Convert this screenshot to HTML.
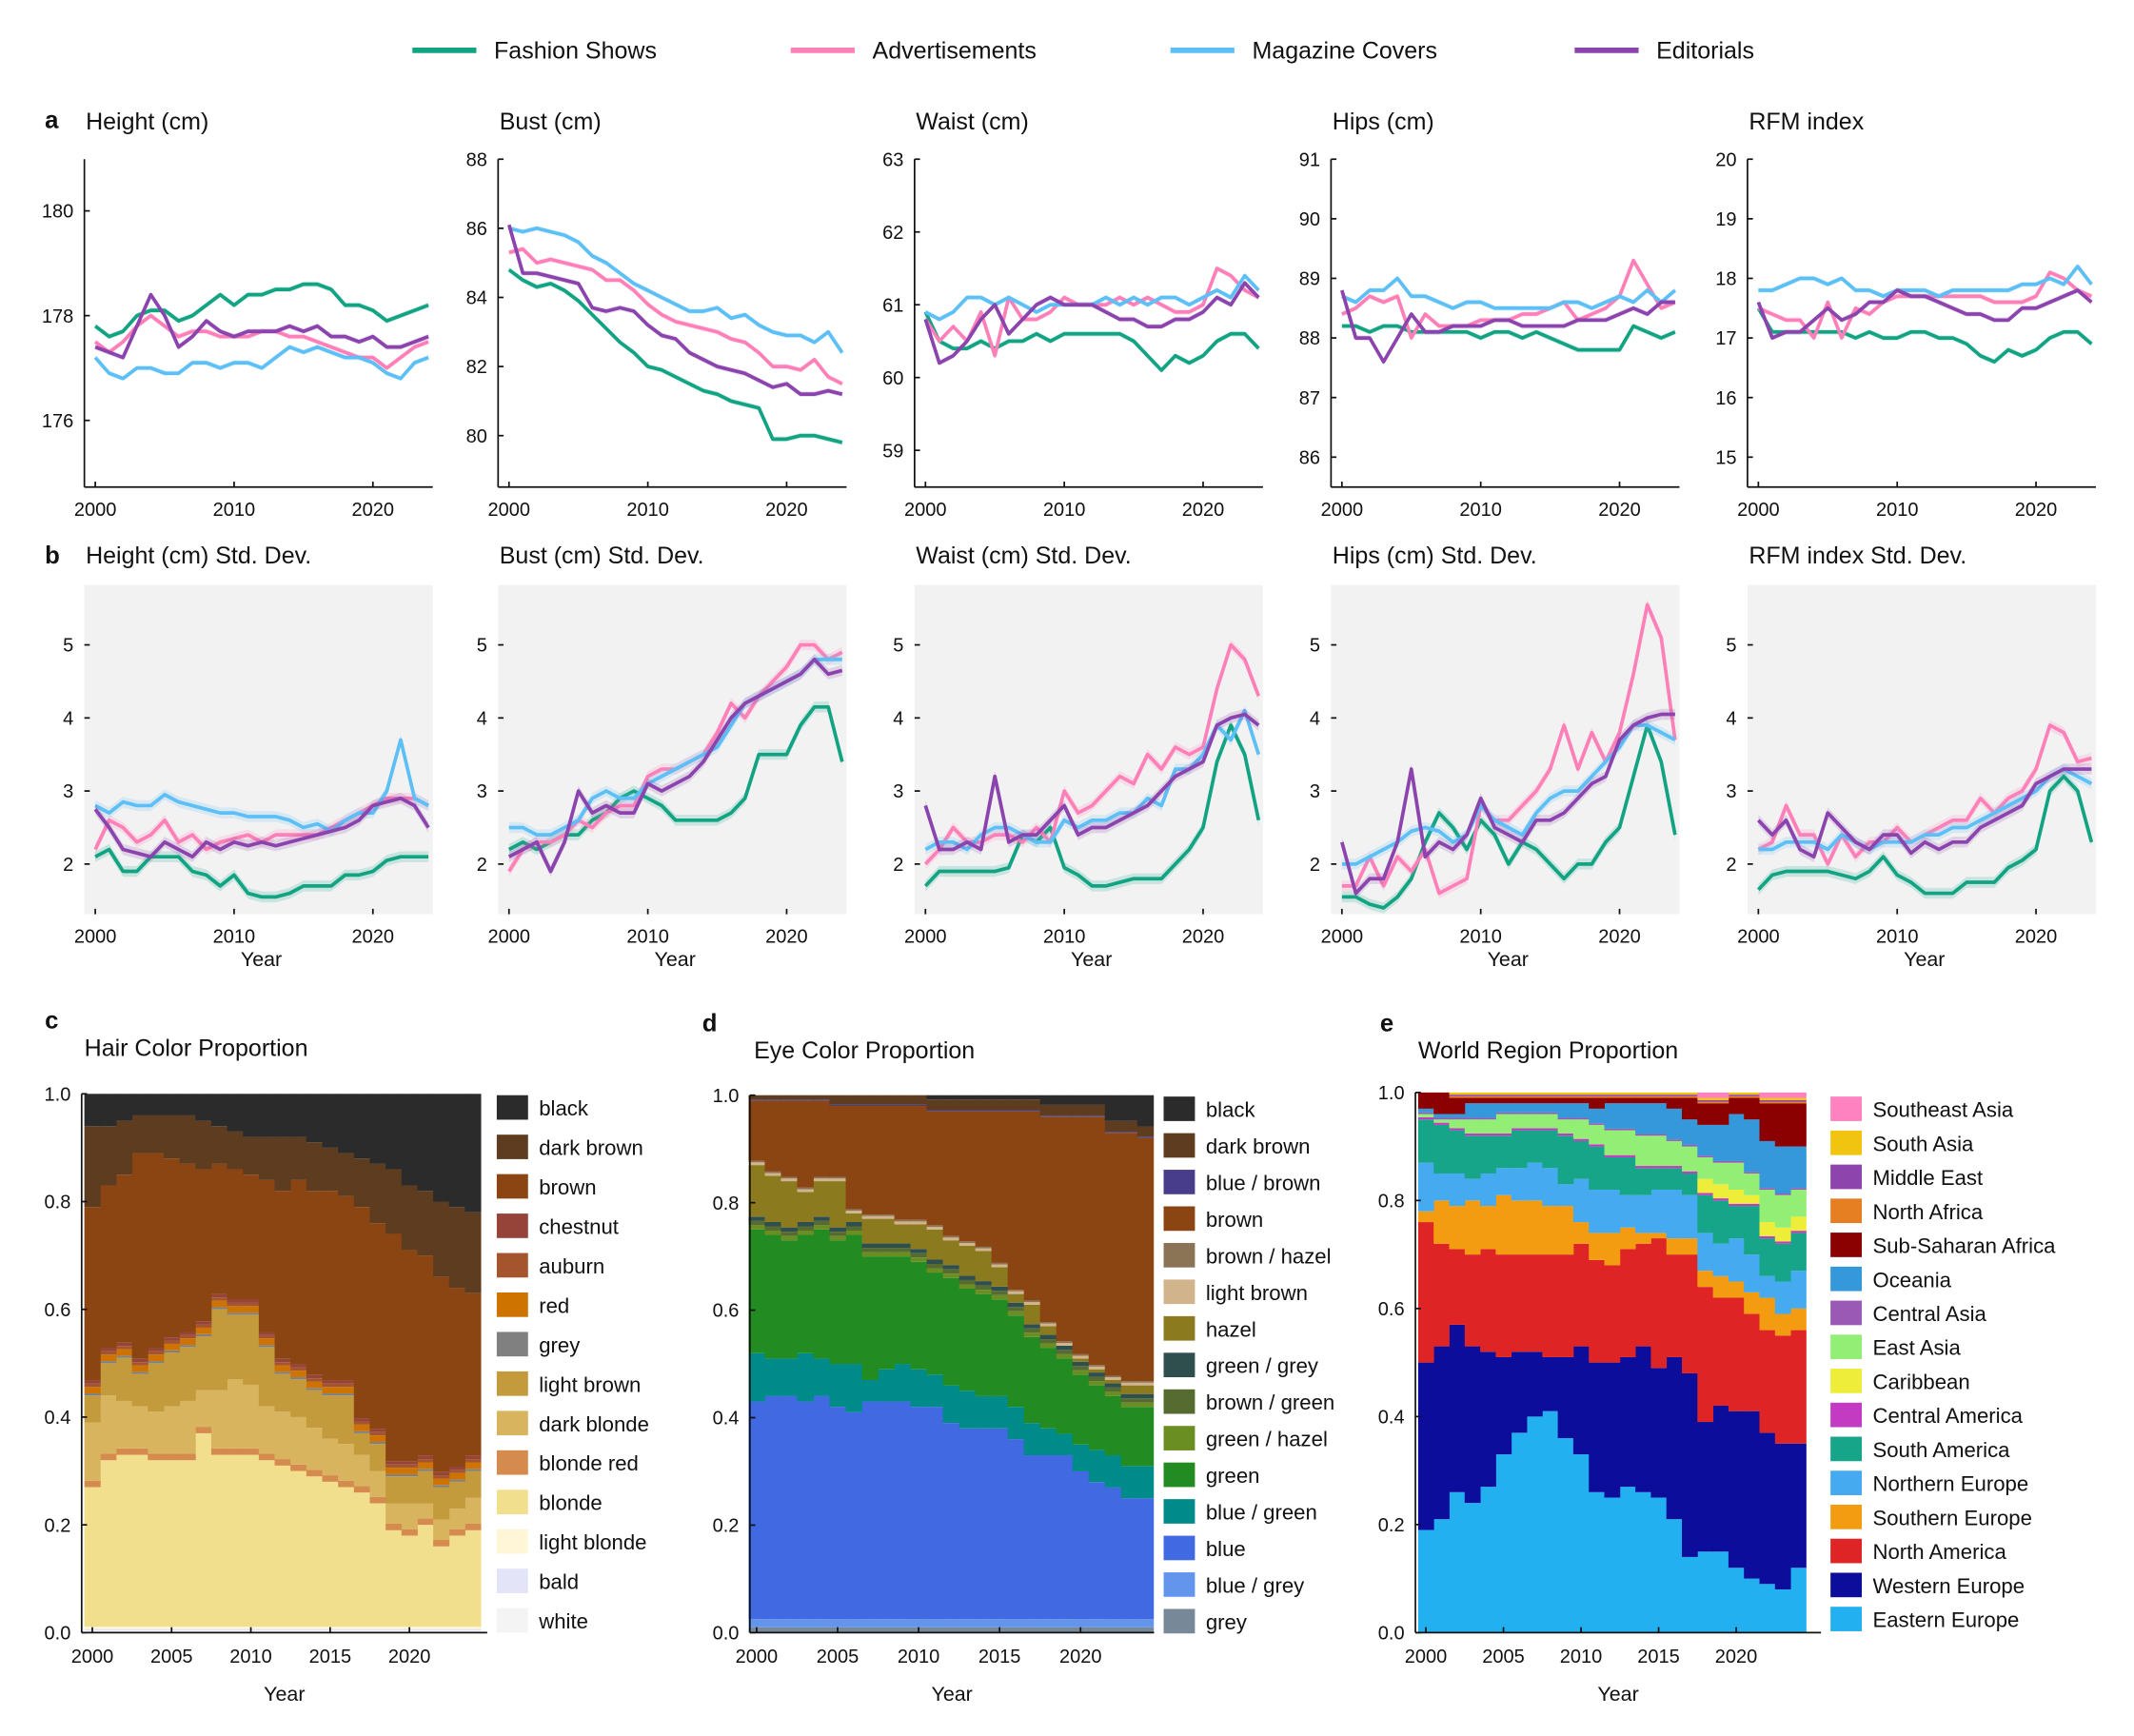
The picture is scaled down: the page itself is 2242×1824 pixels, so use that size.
<!DOCTYPE html>
<html><head><meta charset="utf-8">
<style>
html,body{margin:0;padding:0;background:#fff;}
svg{display:block;font-family:"Liberation Sans",Arial,sans-serif;}
</style></head>
<body>
<svg id="s" width="2242" height="1824" viewBox="0 0 1568 1276" preserveAspectRatio="none" xmlns="http://www.w3.org/2000/svg"></svg>
<script>
const S=document.getElementById('s');let h='';
const C={fs:'#12a383',ad:'#ff80b8',mg:'#5cbff6',ed:'#8b44ad'};
function T(x,y,t,o){o=o||{};h+=`<text x="${x}" y="${y}" font-size="${o.fs||14}" text-anchor="${o.a||'start'}" ${o.b?'font-weight="bold"':''} fill="#111">${t}</text>`;}
function L(x1,y1,x2,y2,c,w){h+=`<line x1="${x1}" y1="${y1}" x2="${x2}" y2="${y2}" stroke="${c||'#111'}" stroke-width="${w||1.2}"/>`;}
// legend
[[303,'fs','Fashion Shows'],[581,'ad','Advertisements'],[860,'mg','Magazine Covers'],[1157,'ed','Editorials']].forEach(a=>{L(a[0],37,a[0]+47,37,C[a[1]],4);T(a[0]+60,43,a[2],{fs:17.5});});
const lefts=[62,366,672,978,1284];
const A=[
{t:'Height (cm)',y:v=>155+(180-v)*38.5,tk:[176,178,180],d:{
fs:[177.8,177.6,177.7,178.0,178.1,178.1,177.9,178.0,178.2,178.4,178.2,178.4,178.4,178.5,178.5,178.6,178.6,178.5,178.2,178.2,178.1,177.9,178.0,178.1,178.2],
ad:[177.5,177.3,177.5,177.8,178.0,177.8,177.6,177.7,177.7,177.6,177.6,177.6,177.7,177.7,177.6,177.6,177.5,177.4,177.3,177.2,177.2,177.0,177.2,177.4,177.5],
mg:[177.2,176.9,176.8,177.0,177.0,176.9,176.9,177.1,177.1,177.0,177.1,177.1,177.0,177.2,177.4,177.3,177.4,177.3,177.2,177.2,177.1,176.9,176.8,177.1,177.2],
ed:[177.4,177.3,177.2,177.8,178.4,178.0,177.4,177.6,177.9,177.7,177.6,177.7,177.7,177.7,177.8,177.7,177.8,177.6,177.6,177.5,177.6,177.4,177.4,177.5,177.6]}},
{t:'Bust (cm)',y:v=>117+(88-v)*25.4,tk:[80,82,84,86,88],d:{
fs:[84.8,84.5,84.3,84.4,84.2,83.9,83.5,83.1,82.7,82.4,82.0,81.9,81.7,81.5,81.3,81.2,81.0,80.9,80.8,79.9,79.9,80.0,80.0,79.9,79.8],
ad:[85.3,85.4,85.0,85.1,85.0,84.9,84.8,84.5,84.5,84.2,83.8,83.5,83.3,83.2,83.1,83.0,82.8,82.7,82.4,82.0,82.0,81.9,82.2,81.7,81.5],
mg:[86.0,85.9,86.0,85.9,85.8,85.6,85.2,85.0,84.7,84.4,84.2,84.0,83.8,83.6,83.6,83.7,83.4,83.5,83.2,83.0,82.9,82.9,82.7,83.0,82.4],
ed:[86.1,84.7,84.7,84.6,84.5,84.4,83.7,83.6,83.7,83.6,83.2,82.9,82.8,82.4,82.2,82.0,81.9,81.8,81.6,81.4,81.5,81.2,81.2,81.3,81.2]}},
{t:'Waist (cm)',y:v=>117+(63-v)*53.5,tk:[59,60,61,62,63],d:{
fs:[60.9,60.5,60.4,60.4,60.5,60.4,60.5,60.5,60.6,60.5,60.6,60.6,60.6,60.6,60.6,60.5,60.3,60.1,60.3,60.2,60.3,60.5,60.6,60.6,60.4],
ad:[60.8,60.5,60.7,60.5,60.9,60.3,61.1,60.8,60.8,60.9,61.1,61.0,61.0,61.0,61.1,61.0,61.1,61.0,60.9,60.9,61.0,61.5,61.4,61.2,61.1],
mg:[60.9,60.8,60.9,61.1,61.1,61.0,61.1,61.0,60.9,61.0,61.0,61.0,61.0,61.1,61.0,61.1,61.0,61.1,61.1,61.0,61.1,61.2,61.1,61.4,61.2],
ed:[60.8,60.2,60.3,60.5,60.8,61.0,60.6,60.8,61.0,61.1,61.0,61.0,61.0,60.9,60.8,60.8,60.7,60.7,60.8,60.8,60.9,61.1,61.0,61.3,61.1]}},
{t:'Hips (cm)',y:v=>117+(91-v)*43.8,tk:[86,87,88,89,90,91],d:{
fs:[88.2,88.2,88.1,88.2,88.2,88.1,88.1,88.1,88.1,88.1,88.0,88.1,88.1,88.0,88.1,88.0,87.9,87.8,87.8,87.8,87.8,88.2,88.1,88.0,88.1],
ad:[88.4,88.5,88.7,88.6,88.7,88.0,88.4,88.2,88.2,88.2,88.3,88.3,88.3,88.4,88.4,88.5,88.6,88.3,88.4,88.5,88.7,89.3,88.9,88.5,88.6],
mg:[88.7,88.6,88.8,88.8,89.0,88.7,88.7,88.6,88.5,88.6,88.6,88.5,88.5,88.5,88.5,88.5,88.6,88.6,88.5,88.6,88.7,88.6,88.8,88.6,88.8],
ed:[88.8,88.0,88.0,87.6,88.0,88.4,88.1,88.1,88.2,88.2,88.2,88.3,88.3,88.2,88.2,88.2,88.2,88.3,88.3,88.3,88.4,88.5,88.4,88.6,88.6]}},
{t:'RFM index',y:v=>117+(20-v)*43.8,tk:[15,16,17,18,19,20],d:{
fs:[17.5,17.1,17.1,17.1,17.1,17.1,17.1,17.0,17.1,17.0,17.0,17.1,17.1,17.0,17.0,16.9,16.7,16.6,16.8,16.7,16.8,17.0,17.1,17.1,16.9],
ad:[17.5,17.4,17.3,17.3,17.0,17.6,17.0,17.5,17.4,17.6,17.7,17.7,17.7,17.7,17.7,17.7,17.7,17.6,17.6,17.6,17.7,18.1,18.0,17.8,17.7],
mg:[17.8,17.8,17.9,18.0,18.0,17.9,18.0,17.8,17.8,17.7,17.8,17.8,17.8,17.7,17.8,17.8,17.8,17.8,17.8,17.9,17.9,18.0,17.9,18.2,17.9],
ed:[17.6,17.0,17.1,17.1,17.3,17.5,17.3,17.4,17.6,17.6,17.8,17.7,17.7,17.6,17.5,17.4,17.4,17.3,17.3,17.5,17.5,17.6,17.7,17.8,17.6]}}];
const B=[
{fs:[2.1,2.2,1.9,1.9,2.1,2.1,2.1,1.9,1.85,1.7,1.85,1.6,1.55,1.55,1.6,1.7,1.7,1.7,1.85,1.85,1.9,2.05,2.1,2.1,2.1],
ad:[2.2,2.6,2.5,2.3,2.4,2.6,2.3,2.4,2.2,2.3,2.35,2.4,2.3,2.4,2.4,2.4,2.4,2.5,2.6,2.7,2.8,2.9,2.9,2.9,2.8],
mg:[2.8,2.7,2.85,2.8,2.8,2.95,2.85,2.8,2.75,2.7,2.7,2.65,2.65,2.65,2.6,2.5,2.55,2.45,2.6,2.7,2.7,3.0,3.7,2.9,2.8],
ed:[2.75,2.5,2.2,2.15,2.1,2.3,2.2,2.1,2.3,2.2,2.3,2.25,2.3,2.25,2.3,2.35,2.4,2.45,2.5,2.6,2.8,2.85,2.9,2.8,2.5]},
{fs:[2.2,2.3,2.2,2.3,2.4,2.4,2.6,2.7,2.9,3.0,2.9,2.8,2.6,2.6,2.6,2.6,2.7,2.9,3.5,3.5,3.5,3.9,4.15,4.15,3.4],
ad:[1.9,2.2,2.3,2.3,2.4,2.6,2.5,2.7,2.8,2.8,3.2,3.3,3.3,3.4,3.5,3.8,4.2,4.0,4.3,4.5,4.7,5.0,5.0,4.8,4.9],
mg:[2.5,2.5,2.4,2.4,2.5,2.6,2.9,3.0,2.9,2.9,3.1,3.2,3.3,3.4,3.5,3.6,3.9,4.2,4.3,4.4,4.5,4.6,4.8,4.8,4.8],
ed:[2.1,2.2,2.3,1.9,2.3,3.0,2.7,2.8,2.7,2.7,3.1,3.0,3.1,3.2,3.4,3.7,4.0,4.2,4.3,4.4,4.5,4.6,4.8,4.6,4.65]},
{fs:[1.7,1.9,1.9,1.9,1.9,1.9,1.95,2.4,2.3,2.5,1.95,1.85,1.7,1.7,1.75,1.8,1.8,1.8,2.0,2.2,2.5,3.4,3.9,3.5,2.6],
ad:[2.0,2.2,2.5,2.3,2.3,2.4,2.4,2.3,2.5,2.3,3.0,2.7,2.8,3.0,3.2,3.1,3.5,3.3,3.6,3.5,3.6,4.4,5.0,4.8,4.3],
mg:[2.2,2.3,2.3,2.2,2.4,2.5,2.5,2.4,2.3,2.3,2.6,2.5,2.6,2.6,2.7,2.7,2.9,2.8,3.3,3.3,3.5,3.9,3.7,4.1,3.5],
ed:[2.8,2.2,2.2,2.3,2.2,3.2,2.3,2.4,2.4,2.6,2.8,2.4,2.5,2.5,2.6,2.7,2.8,3.0,3.2,3.3,3.4,3.9,4.0,4.05,3.9]},
{fs:[1.55,1.55,1.45,1.4,1.55,1.8,2.3,2.7,2.5,2.2,2.6,2.4,2.0,2.3,2.2,2.0,1.8,2.0,2.0,2.3,2.5,3.2,3.9,3.4,2.4],
ad:[1.7,1.7,2.1,1.7,2.1,1.9,2.2,1.6,1.7,1.8,2.8,2.6,2.6,2.8,3.0,3.3,3.9,3.3,3.8,3.4,3.8,4.6,5.55,5.1,3.7],
mg:[2.0,2.0,2.1,2.2,2.3,2.45,2.5,2.45,2.3,2.4,2.8,2.6,2.5,2.4,2.7,2.9,3.0,3.0,3.2,3.4,3.6,3.9,3.9,3.8,3.7],
ed:[2.3,1.6,1.8,1.8,2.3,3.3,2.1,2.3,2.2,2.4,2.9,2.5,2.4,2.3,2.6,2.6,2.7,2.9,3.1,3.2,3.7,3.9,4.0,4.05,4.05]},
{fs:[1.65,1.85,1.9,1.9,1.9,1.9,1.85,1.8,1.9,2.1,1.85,1.75,1.6,1.6,1.6,1.75,1.75,1.75,1.95,2.05,2.2,3.0,3.2,3.0,2.3],
ad:[2.2,2.3,2.8,2.4,2.4,2.0,2.4,2.1,2.3,2.3,2.5,2.3,2.4,2.5,2.6,2.6,2.9,2.7,2.9,3.0,3.3,3.9,3.8,3.4,3.45],
mg:[2.2,2.2,2.3,2.3,2.3,2.2,2.4,2.3,2.2,2.3,2.3,2.3,2.4,2.4,2.5,2.5,2.6,2.7,2.8,2.9,3.0,3.2,3.3,3.2,3.1],
ed:[2.6,2.4,2.6,2.2,2.1,2.7,2.5,2.3,2.2,2.4,2.4,2.15,2.3,2.2,2.3,2.3,2.5,2.6,2.7,2.8,3.1,3.2,3.3,3.3,3.3]}];
function series(l,yf,d,bw){['fs','ad','mg','ed'].forEach(k=>{const xs=d[k].map((v,i)=>l+8+i*10.2);const ys=d[k].map(yf);
let up=xs.map((x,i)=>x+','+(ys[i]-bw)).join(' ');let dn=xs.map((x,i)=>x+','+(ys[i]+bw)).reverse().join(' ');
h+=`<polygon points="${up} ${dn}" fill="${C[k]}" opacity="0.18"/>`;
h+=`<polyline points="${xs.map((x,i)=>x+','+ys[i]).join(' ')}" fill="none" stroke="${C[k]}" stroke-width="2.6" stroke-linejoin="round"/>`;});}
function xticks(l,yb){[2000,2010,2020].forEach(y=>{const x=l+8+(y-2000)*10.2;L(x,yb,x,yb-4);T(x,yb+21,y,{a:'middle',fs:14});});}
A.forEach((p,j)=>{const l=lefts[j];
 T(l+1,95,p.t,{fs:17.5});
 L(l,117,l,358);L(l,358,l+256,358);
 p.tk.forEach(v=>{const y=p.y(v);L(l,y,l+4,y);T(l-8,y+5,v,{a:'end'});});
 xticks(l,358);series(l,p.y,p.d,2);
 const b=B[j];
 T(l+1,414,p.t+' Std. Dev.',{fs:17.5});
 h+=`<rect x="${l}" y="430" width="256" height="242" fill="#f2f2f2"/>`;
 const yb=v=>474+(5-v)*53.7;
 [2,3,4,5].forEach(v=>{const y=yb(v);L(l,y,l+4,y);T(l-8,y+5,v,{a:'end'});});
 xticks(l,672);T(l+130,710,'Year',{a:'middle',fs:15});
 series(l,yb,b,4);
});
T(33,94,'a',{b:1,fs:18});T(33,414,'b',{b:1,fs:18});
// stacked
function stack(ax,layers,leg){const {l,t,bt,x0,w,r}=ax;const yf=v=>bt-(bt-t)*v;
 let prev=new Array(25).fill(0);
 layers.forEach(L2=>{const c=L2[1],s=L2[2];const top=Array.isArray(s)?s.map((v,i)=>Math.max(v,prev[i])):prev.map(v=>Math.min(1,v+s));
  if(L2[3])for(let i=0;i<25;i++)top[i]=1;
  for(let i=0;i<25;i++){if(top[i]>prev[i])h+=`<rect x="${(x0+i*w).toFixed(2)}" y="${yf(top[i]).toFixed(2)}" width="${(w+0.3).toFixed(2)}" height="${(yf(prev[i])-yf(top[i])).toFixed(2)}" fill="${c}"/>`;}
  prev=top;});
 L(l,t,l,bt);L(l,bt,r,bt);
 [0,0.2,0.4,0.6,0.8,1.0].forEach(v=>{const y=yf(v);L(l,y,l+4,y);T(l-8,y+5,v.toFixed(1),{a:'end'});});
 [2000,2005,2010,2015,2020].forEach(y=>{const x=x0+w/2+(y-2000)*w;L(x,bt,x,bt-4);T(x,bt+22,y,{a:'middle'});});
 T((l+r)/2,bt+50,'Year',{a:'middle',fs:15});
 const lg=layers.slice().reverse();
 lg.forEach((L2,i)=>{const y=leg.y0+i*leg.st;h+=`<rect x="${leg.x}" y="${y-9}" width="23" height="18" fill="${L2[1]}"/>`;T(leg.x+31,y+6,L2[0],{fs:15.5});});
}
const hair=[['white','#f4f4f4',0.004],['bald','#e4e4f8',0.003],['light blonde','#fff6d8',0.004],
['blonde','#f2df8e',[0.27,0.32,0.33,0.33,0.32,0.32,0.32,0.37,0.33,0.33,0.33,0.32,0.31,0.30,0.29,0.28,0.27,0.26,0.24,0.19,0.18,0.2,0.16,0.18,0.19]],
['blonde red','#d58a4e',0.012],
['dark blonde','#d8b45e',[0.39,0.44,0.43,0.42,0.41,0.42,0.43,0.45,0.45,0.47,0.46,0.42,0.41,0.40,0.38,0.36,0.35,0.33,0.30,0.24,0.24,0.24,0.21,0.23,0.25]],
['light brown','#c49b3c',[0.44,0.50,0.51,0.48,0.50,0.52,0.53,0.55,0.60,0.59,0.59,0.53,0.48,0.47,0.45,0.44,0.44,0.37,0.35,0.29,0.29,0.30,0.27,0.28,0.30]],
['grey','#808080',0.004],['red','#cf7300',0.012],['auburn','#a5552e',0.006],['chestnut','#96443a',0.006],
['brown','#8b4513',[0.79,0.83,0.85,0.89,0.89,0.88,0.87,0.86,0.87,0.86,0.85,0.84,0.82,0.84,0.82,0.82,0.81,0.79,0.76,0.74,0.71,0.70,0.66,0.64,0.63]],
['dark brown','#5e3c1f',[0.94,0.94,0.95,0.96,0.96,0.96,0.96,0.95,0.94,0.93,0.92,0.92,0.92,0.92,0.91,0.90,0.89,0.88,0.87,0.86,0.83,0.82,0.80,0.79,0.78]],
['black','#2b2b2b',1,1]];
stack({l:60,t:804,bt:1200,x0:62,w:11.65,r:358},hair,{x:365,y0:814,st:29});
T(33,756,'c',{b:1,fs:18});T(62,776,'Hair Color Proportion',{fs:17.5});
const eye=[['grey','#778899',0.01],['blue / grey','#6495ed',0.015],
['blue','#4169e1',[0.43,0.44,0.44,0.43,0.44,0.42,0.41,0.43,0.43,0.43,0.42,0.42,0.39,0.38,0.38,0.38,0.36,0.33,0.33,0.33,0.30,0.28,0.27,0.25,0.25]],
['blue / green','#008b8b',[0.52,0.51,0.51,0.52,0.51,0.50,0.50,0.47,0.49,0.50,0.49,0.48,0.46,0.45,0.44,0.44,0.42,0.39,0.38,0.37,0.35,0.34,0.33,0.31,0.31]],
['green','#228b22',[0.75,0.74,0.73,0.74,0.75,0.73,0.74,0.70,0.70,0.70,0.69,0.67,0.66,0.64,0.63,0.62,0.59,0.55,0.53,0.51,0.48,0.46,0.44,0.42,0.42]],
['green / hazel','#6b8e23',0.008],['brown / green','#556b2f',0.008],['green / grey','#2f4f4f',0.008],
['hazel','#8b7a1e',[0.87,0.85,0.84,0.82,0.84,0.84,0.78,0.77,0.77,0.76,0.76,0.75,0.73,0.72,0.71,0.68,0.63,0.61,0.57,0.53,0.51,0.49,0.47,0.46,0.46]],
['light brown','#d2b48c',0.005],['brown / hazel','#8b7355',0.003],
['brown','#8b4513',[0.99,0.99,0.99,0.99,0.99,0.98,0.98,0.98,0.98,0.98,0.98,0.97,0.97,0.97,0.97,0.97,0.97,0.97,0.96,0.96,0.96,0.96,0.93,0.93,0.92]],
['blue / brown','#483d8b',0.002],['dark brown','#5e3c1f',0.02],['black','#2b2b2b',1,1]];
stack({l:551,t:805,bt:1200,x0:550,w:11.9,r:848},eye,{x:855,y0:815,st:26.9});
T(516,758,'d',{b:1,fs:18});T(554,778,'Eye Color Proportion',{fs:17.5});
const reg=[['Eastern Europe','#22b0f0',[0.19,0.21,0.26,0.24,0.27,0.33,0.37,0.40,0.41,0.36,0.33,0.26,0.25,0.27,0.26,0.25,0.21,0.14,0.15,0.15,0.12,0.10,0.09,0.08,0.12]],
['Western Europe','#0d0d9c',[0.50,0.53,0.57,0.53,0.52,0.51,0.52,0.52,0.51,0.51,0.53,0.50,0.50,0.51,0.53,0.49,0.51,0.48,0.39,0.42,0.41,0.41,0.37,0.35,0.35]],
['North America','#de2424',[0.76,0.72,0.71,0.70,0.71,0.70,0.70,0.70,0.70,0.70,0.72,0.69,0.68,0.71,0.72,0.73,0.70,0.70,0.64,0.62,0.62,0.59,0.56,0.55,0.56]],
['Southern Europe','#f39c12',[0.78,0.80,0.79,0.80,0.79,0.81,0.80,0.80,0.79,0.79,0.76,0.74,0.74,0.75,0.74,0.74,0.73,0.73,0.67,0.66,0.65,0.63,0.62,0.59,0.60]],
['Northern Europe','#45aaf0',[0.87,0.85,0.85,0.84,0.85,0.86,0.86,0.87,0.86,0.83,0.84,0.82,0.82,0.81,0.81,0.82,0.82,0.81,0.74,0.72,0.73,0.70,0.66,0.65,0.67]],
['South America','#17a589',[0.95,0.94,0.93,0.92,0.92,0.92,0.93,0.93,0.93,0.92,0.91,0.90,0.88,0.88,0.86,0.86,0.86,0.85,0.81,0.80,0.79,0.79,0.73,0.72,0.74]],
['Central America','#c23bc2',0.004],['Caribbean','#eeee3a',[0,0,0,0,0,0,0,0,0,0,0,0,0,0,0,0,0,0,0.84,0.83,0.82,0.81,0.76,0.75,0.77]],
['East Asia','#92ee74',[0.96,0.95,0.95,0.95,0.95,0.96,0.96,0.96,0.96,0.95,0.95,0.94,0.93,0.93,0.92,0.92,0.91,0.90,0.88,0.87,0.87,0.85,0.82,0.81,0.82]],
['Central Asia','#9b59b6',0.003],
['Oceania','#3498db',[0.97,0.96,0.96,0.98,0.98,0.98,0.98,0.98,0.98,0.98,0.98,0.97,0.98,0.98,0.98,0.98,0.97,0.95,0.94,0.94,0.96,0.95,0.91,0.90,0.90]],
['Sub-Saharan Africa','#8b0000',[1.0,1.0,0.99,0.99,0.99,0.99,0.99,0.99,0.99,0.99,0.99,0.99,0.99,0.99,0.99,0.99,0.99,0.99,0.98,0.98,0.99,0.99,0.98,0.98,0.98]],
['North Africa','#e67e22',0.003],['Middle East','#8e44ad',0.003],['South Asia','#f1c40f',0.004],['Southeast Asia','#ff82c0',1,1]];
stack({l:1040,t:803,bt:1200,x0:1042,w:11.4,r:1338},reg,{x:1345,y0:815,st:25});
T(1014,758,'e',{b:1,fs:18});T(1042,778,'World Region Proportion',{fs:17.5});
S.innerHTML=h;
</script>
</body></html>
